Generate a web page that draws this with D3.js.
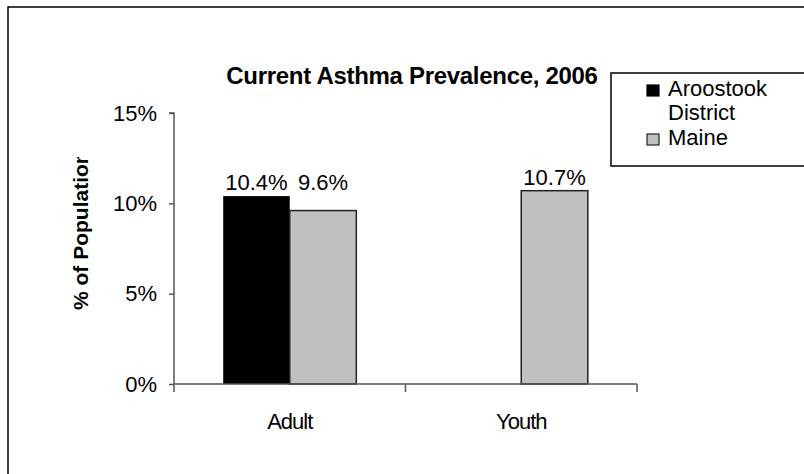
<!DOCTYPE html>
<html lang="en">
<head>
  <meta charset="UTF-8">
  <title>Current Asthma Prevalence, 2006</title>
  <style>
    body {
      margin: 0;
      padding: 0;
      background: #fff;
      font-family: "Liberation Sans", Arial, sans-serif;
    }
    .axis path, .axis line {
      stroke: #555;
      stroke-width: 1.5;
    }
    .axis text {
      font-family: "Liberation Sans", Arial, sans-serif;
      fill: #000;
    }
  </style>
</head>
<body>
  <script src="https://d3js.org/d3.v7.min.js"></script>
  <script>
    // chart data
    const categories = ['Adult', 'Youth'];
    const seriesNames = ['Aroostook District', 'Maine'];
    const aroostook = [10.4, null];
    const maine = [9.6, 10.7];
    const yTicks = [0, 5, 10, 15];

    const seriesColors = ['#000000', '#c0c0c0'];
    const seriesStroke = ['none', '#222'];

    const width = 804;
    const height = 474;
    const plot = { left: 174, right: 637, top: 113, bottom: 384 };

    const svg = d3.select('body')
      .append('svg')
      .attr('width', width)
      .attr('height', height);

    // outer frame (right and bottom edges fall outside the picture)
    svg.append('rect')
      .attr('x', 8)
      .attr('y', 7)
      .attr('width', 900)
      .attr('height', 600)
      .attr('fill', 'none')
      .attr('stroke', '#000')
      .attr('stroke-width', 1.5);

    const x = d3.scaleBand()
      .domain(categories)
      .range([plot.left, plot.right]);

    const groupWidth = x.bandwidth() * 0.575;
    const xInner = d3.scaleBand()
      .domain(seriesNames)
      .range([(x.bandwidth() - groupWidth) / 2, (x.bandwidth() + groupWidth) / 2]);

    const y = d3.scaleLinear()
      .domain([0, 15])
      .range([plot.bottom, plot.top]);

    // title
    svg.append('text')
      .attr('x', 412)
      .attr('y', 84)
      .attr('text-anchor', 'middle')
      .style('font-size', '24px')
      .style('font-weight', 'bold')
      .style('letter-spacing', '-0.3px')
      .text('Current Asthma Prevalence, 2006');

    // bars
    const rows = categories.map((c, i) => ({
      category: c,
      values: [aroostook[i], maine[i]]
    }));

    const groups = svg.append('g')
      .selectAll('g')
      .data(rows)
      .enter().append('g')
        .attr('transform', d => `translate(${x(d.category)},0)`);

    groups.selectAll('rect')
      .data(d => d.values.map((v, j) => ({ name: seriesNames[j], value: v, j: j })).filter(e => e.value != null))
      .enter().append('rect')
        .attr('x', d => xInner(d.name))
        .attr('y', d => y(d.value))
        .attr('width', xInner.bandwidth())
        .attr('height', d => y(0) - y(d.value))
        .attr('fill', d => seriesColors[d.j])
        .attr('stroke', d => seriesStroke[d.j])
        .attr('stroke-width', 1.5);

    // value labels, lined up above the tallest bar of each group
    groups.each(function(row) {
      const top = y(d3.max(row.values));
      d3.select(this).selectAll('text.value')
        .data(row.values.map((v, j) => ({ name: seriesNames[j], value: v })).filter(e => e.value != null))
        .enter().append('text')
          .attr('class', 'value')
          .attr('x', d => xInner(d.name) + xInner.bandwidth() / 2)
          .attr('y', top - 6)
          .attr('text-anchor', 'middle')
          .style('font-size', '22px')
          .text(d => d.value.toFixed(1) + '%');
    });

    // y axis
    const yAxis = svg.append('g')
      .attr('class', 'axis')
      .attr('transform', `translate(${plot.left},0)`)
      .call(d3.axisLeft(y).tickValues(yTicks).tickSize(5).tickPadding(12).tickFormat(d => d + '%'));
    yAxis.select('.domain').attr('d', `M-5,${plot.top}H0V${plot.bottom}`);
    yAxis.selectAll('text').style('font-size', '22px');

    // x axis
    const xAxis = svg.append('g')
      .attr('class', 'axis')
      .attr('transform', `translate(0,${plot.bottom})`);
    xAxis.append('path')
      .attr('d', `M${plot.left},0H${plot.right}`);
    xAxis.selectAll('line')
      .data([plot.left, ...categories.slice(1).map(c => x(c)), plot.right])
      .enter().append('line')
        .attr('x1', d => d).attr('x2', d => d)
        .attr('y1', 0).attr('y2', 8);
    xAxis.selectAll('text')
      .data(categories)
      .enter().append('text')
        .attr('x', d => x(d) + x.bandwidth() / 2)
        .attr('y', 45)
        .attr('text-anchor', 'middle')
        .style('font-size', '22px')
        .style('letter-spacing', '-1px')
        .text(d => d);

    // y axis title, clipped at the top like the original
    svg.append('clipPath')
      .attr('id', 'ytitle-clip')
      .append('rect')
        .attr('x', 40).attr('y', 157)
        .attr('width', 80).attr('height', 220);

    svg.append('g')
      .attr('clip-path', 'url(#ytitle-clip)')
      .append('text')
        .attr('transform', 'translate(88,310) rotate(-90)')
        .attr('text-anchor', 'start')
        .style('font-size', '21px')
        .style('font-weight', 'bold')
        .text('% of Population');

    // legend
    const legend = svg.append('g');
    legend.append('rect')
      .attr('x', 611)
      .attr('y', 73)
      .attr('width', 300)
      .attr('height', 93)
      .attr('fill', '#fff')
      .attr('stroke', '#000')
      .attr('stroke-width', 1.5);

    const legendLines = [['Aroostook', 'District'], ['Maine']];
    const legendRowY = [96, 145];

    const items = legend.selectAll('g.item')
      .data(seriesNames)
      .enter().append('g')
        .attr('class', 'item');

    items.append('rect')
      .attr('x', 647)
      .attr('y', (d, i) => legendRowY[i] - 11)
      .attr('width', 12)
      .attr('height', 11)
      .attr('fill', (d, i) => seriesColors[i])
      .attr('stroke', (d, i) => i === 0 ? '#000' : '#222')
      .attr('stroke-width', 1.2);

    items.append('text')
      .attr('x', 668)
      .attr('y', (d, i) => legendRowY[i])
      .style('font-size', '22px')
      .selectAll('tspan')
      .data((d, i) => legendLines[i])
      .enter().append('tspan')
        .attr('x', 668)
        .attr('dy', (d, k) => k === 0 ? 0 : 24)
        .text(d => d);
  </script>
</body>
</html>
